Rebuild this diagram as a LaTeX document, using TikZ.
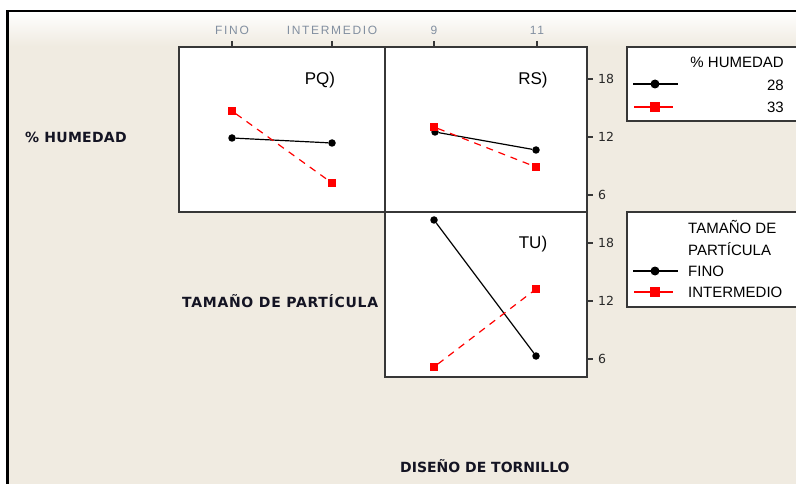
\documentclass[tikz,border=0pt]{standalone}
\usepackage{fontspec}
\setmainfont{Liberation Sans}
\newfontfamily\dejavu{DejaVu Sans}
\usetikzlibrary{shapes.geometric}
\definecolor{beige}{RGB}{240,235,225}
\definecolor{frame}{RGB}{55,55,55}
\definecolor{ticklab}{RGB}{130,143,160}
\definecolor{axnum}{RGB}{40,40,40}
\definecolor{lblue}{RGB}{20,20,35}
\tikzset{
  panel/.style={draw=frame, fill=white, line width=1.5pt},
  legbox/.style={draw=frame, fill=white, line width=1.5pt},
  bdot/.style={circle, fill=black, inner sep=0pt, minimum size=7.5pt},
  rsq/.style={rectangle, fill=red, inner sep=0pt, minimum size=7.5pt},
  lbdot/.style={circle, fill=black, inner sep=0pt, minimum size=9pt},
  lrsq/.style={rectangle, fill=red, inner sep=0pt, minimum size=9.5pt},
  bline/.style={black, line width=1.2pt},
  rline/.style={red, line width=1.2pt, dash pattern=on 7pt off 6pt},
  lbline/.style={black, line width=1.3pt},
  lrline/.style={red, line width=1.3pt},
  tick/.style={frame, line width=1.3pt},
  toplab/.style={text=ticklab, font=\fontsize{12}{12}\selectfont\addfontfeature{LetterSpace=14}, inner sep=0pt},
  rlab/.style={text=axnum, font=\dejavu\fontsize{12.5}{12.5}\selectfont, inner sep=0pt, anchor=west},
  plab/.style={font=\fontsize{17}{17}\selectfont, inner sep=0pt},
  biglab/.style={text=lblue, font=\dejavu\bfseries\fontsize{14}{14}\selectfont, inner sep=0pt, anchor=west},
  legtxt/.style={font=\fontsize{15}{15}\selectfont, inner sep=0pt},
}
\begin{document}
\begin{tikzpicture}[x=1pt,y=-1pt]
\useasboundingbox (0,0) rectangle (796,484);
\clip (0,0) rectangle (796,484);
\fill[white] (0,0) rectangle (796,484);
\fill[beige] (7.5,11) rectangle (796,484);
\shade[top color=white, bottom color=beige] (7.5,11) rectangle (796,46);
% outer frame
\draw[black, line width=2.5pt] (7.5,484) -- (7.5,11) -- (796,11);

% panels
\draw[panel] (179,47) rectangle (385,212);
\draw[panel] (385,47) rectangle (587,212);
\draw[panel] (385,212) rectangle (587,377);

% top ticks and labels
\foreach \x/\t in {232/FINO, 332/INTERMEDIO, 434/9, 537/11}{
  \draw[tick] (\x,41) -- (\x,47);
  \node[toplab] at (\x,30) {\t};
}
% right ticks and labels
\foreach \y/\t in {79/18, 137/12, 195/6, 243/18, 301/12, 359/6}{
  \draw[tick] (587,\y) -- (593,\y);
  \node[rlab] at (598,\y) {\t};
}

% panel labels
\node[plab] (lpq) at (320,80) {PQ)};
\node[plab] (lrs) at (533,80) {RS)};
\node[plab] (ltu) at (533,244) {TU)};

% PQ data
\node[bdot] (pqb1) at (232,138) {};
\node[bdot] (pqb2) at (332,143) {};
\node[rsq] (pqr1) at (232,111) {};
\node[rsq] (pqr2) at (332,183) {};
\draw[bline] (pqb1) -- (pqb2);
\draw[rline] (pqr1) -- (pqr2);

% RS data
\node[bdot] (rsb1) at (435,132) {};
\node[bdot] (rsb2) at (536,150) {};
\node[rsq] (rsr1) at (434,127) {};
\node[rsq] (rsr2) at (536,167) {};
\draw[bline] (rsb1) -- (rsb2);
\draw[rline] (rsr1) -- (rsr2);

% TU data
\node[bdot] (tub1) at (434,220) {};
\node[bdot] (tub2) at (536,356) {};
\node[rsq] (tur1) at (434,367) {};
\node[rsq] (tur2) at (536,289) {};
\draw[bline] (tub1) -- (tub2);
\draw[rline] (tur1) -- (tur2);

% row/column labels
\node[biglab] (rowh) at (25,137) {\addfontfeature{LetterSpace=2}\% HUMEDAD};
\node[biglab] (rowt) at (182,301) {\addfontfeature{LetterSpace=5}TAMAÑO DE PARTÍCULA};
\node[biglab] (colt) at (400,466) {DISEÑO DE TORNILLO};

% legend 1
\draw[legbox] (627,47) rectangle (810,121);
\node[legtxt, anchor=east] (lg1t) at (784,62) {\% HUMEDAD};
\coordinate (l1a) at (633,84); \coordinate (l1b) at (678,84);
\draw[lbline] (l1a) -- (l1b);
\node[lbdot] (l1m) at (655,84) {};
\node[legtxt, anchor=east] (l1t) at (784,85) {28};
\coordinate (l2a) at (634,107); \coordinate (l2b) at (673,107);
\draw[lrline] (l2a) -- (l2b);
\node[lrsq] (l2m) at (655,107) {};
\node[legtxt, anchor=east] (l2t) at (784,107) {33};

% legend 2
\draw[legbox] (627,212) rectangle (810,307);
\node[legtxt, anchor=west] (lg2a) at (688,227) {TAMAÑO DE};
\node[legtxt, anchor=west] (lg2b) at (688,249) {PARTÍCULA};
\coordinate (l3a) at (633,271); \coordinate (l3b) at (678,271);
\draw[lbline] (l3a) -- (l3b);
\node[lbdot] (l3m) at (655,271) {};
\node[legtxt, anchor=west] (l3t) at (688,271) {FINO};
\coordinate (l4a) at (634,292); \coordinate (l4b) at (673,292);
\draw[lrline] (l4a) -- (l4b);
\node[lrsq] (l4m) at (655,292) {};
\node[legtxt, anchor=west] (l4t) at (688,292) {INTERMEDIO};
\end{tikzpicture}
\end{document}
